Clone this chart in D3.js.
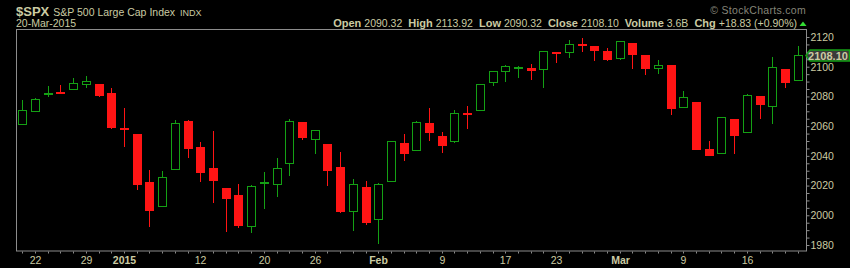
<!DOCTYPE html>
<html lang="en">

<head>
    <meta charset="UTF-8" />
    <title>$SPX daily candles</title>
    <script src="https://d3js.org/d3.v7.min.js"></script>
    <style>
        html, body {
            margin: 0;
            padding: 0;
            background: #000;
        }

        svg {
            display: block;
            font-family: "Liberation Sans", Arial, sans-serif;
        }
    </style>
</head>

<body>
    <div id="chart"></div>

    <script>
        // trading days shown on the chart
        const dates = [
            "2014-12-19", "2014-12-22", "2014-12-23", "2014-12-24", "2014-12-26", "2014-12-29", "2014-12-30", "2014-12-31",
            "2015-01-02", "2015-01-05", "2015-01-06", "2015-01-07", "2015-01-08", "2015-01-09",
            "2015-01-12", "2015-01-13", "2015-01-14", "2015-01-15", "2015-01-16",
            "2015-01-20", "2015-01-21", "2015-01-22", "2015-01-23",
            "2015-01-26", "2015-01-27", "2015-01-28", "2015-01-29", "2015-01-30",
            "2015-02-02", "2015-02-03", "2015-02-04", "2015-02-05", "2015-02-06",
            "2015-02-09", "2015-02-10", "2015-02-11", "2015-02-12", "2015-02-13",
            "2015-02-17", "2015-02-18", "2015-02-19", "2015-02-20",
            "2015-02-23", "2015-02-24", "2015-02-25", "2015-02-26", "2015-02-27",
            "2015-03-02", "2015-03-03", "2015-03-04", "2015-03-05", "2015-03-06",
            "2015-03-09", "2015-03-10", "2015-03-11", "2015-03-12", "2015-03-13",
            "2015-03-16", "2015-03-17", "2015-03-18", "2015-03-19", "2015-03-20"
        ];

        const opens = [
            2061.04, 2069.28, 2081.48, 2083.25, 2084.30, 2087.63, 2088.49, 2082.11,
            2058.90, 2054.44, 2022.15, 2005.55, 2030.61, 2063.45,
            2046.13, 2031.58, 2018.40, 2013.75, 1992.25,
            2020.76, 2020.19, 2034.30, 2062.98,
            2050.42, 2047.86, 2032.34, 2002.45, 2019.35,
            1996.67, 2022.71, 2048.86, 2043.45, 2062.28,
            2053.47, 2049.38, 2068.55, 2069.98, 2088.78,
            2096.47, 2099.16, 2099.25, 2097.65,
            2109.83, 2109.10, 2115.30, 2113.91, 2110.88,
            2105.23, 2115.76, 2107.72, 2098.54, 2100.91,
            2072.25, 2076.14, 2044.69, 2041.10, 2064.56,
            2055.35, 2080.59, 2072.84, 2098.69, 2090.32
        ];

        const highs = [
            2077.85, 2078.76, 2086.73, 2087.56, 2092.70, 2093.55, 2088.49, 2085.58,
            2072.36, 2054.44, 2030.25, 2029.61, 2064.08, 2064.43,
            2049.30, 2056.93, 2018.40, 2021.35, 2020.46,
            2028.94, 2038.29, 2064.62, 2062.98,
            2057.62, 2047.86, 2042.49, 2024.64, 2023.32,
            2021.66, 2050.30, 2054.74, 2063.55, 2072.40,
            2056.16, 2070.86, 2073.48, 2088.53, 2097.03,
            2101.30, 2100.23, 2102.13, 2110.61,
            2110.05, 2117.94, 2119.59, 2113.91, 2112.74,
            2117.52, 2115.76, 2107.72, 2104.25, 2100.91,
            2083.49, 2076.14, 2050.08, 2066.41, 2064.56,
            2081.41, 2080.59, 2106.85, 2098.69, 2113.92
        ];

        const lows = [
            2061.03, 2069.28, 2079.77, 2081.86, 2084.30, 2085.75, 2079.53, 2057.94,
            2046.04, 2017.34, 1992.44, 2005.55, 2030.61, 2038.33,
            2022.58, 2008.25, 1988.44, 1991.47, 1988.12,
            2004.49, 2012.04, 2026.38, 2050.54,
            2040.97, 2019.91, 2001.49, 1989.18, 1993.38,
            1980.90, 2022.71, 2036.72, 2043.45, 2049.97,
            2041.88, 2048.62, 2057.99, 2069.98, 2086.70,
            2089.80, 2092.15, 2090.79, 2085.44,
            2102.54, 2105.87, 2109.89, 2103.76, 2103.75,
            2104.50, 2098.26, 2094.49, 2095.22, 2067.27,
            2072.21, 2044.16, 2039.69, 2041.10, 2041.17,
            2055.35, 2065.08, 2061.23, 2085.56, 2090.32
        ];

        const closes = [
            2070.65, 2078.54, 2082.17, 2081.88, 2088.77, 2090.57, 2080.35, 2058.90,
            2058.20, 2020.58, 2002.61, 2025.90, 2062.14, 2044.81,
            2028.26, 2023.03, 2011.27, 1992.67, 2019.42,
            2022.55, 2032.12, 2063.15, 2051.82,
            2057.09, 2029.55, 2002.16, 2021.25, 1994.99,
            2020.85, 2050.03, 2041.51, 2062.52, 2055.47,
            2046.74, 2068.59, 2068.53, 2088.48, 2096.99,
            2100.34, 2099.68, 2097.45, 2110.30,
            2109.66, 2115.48, 2113.86, 2110.74, 2104.50,
            2117.39, 2107.78, 2098.53, 2101.04, 2071.26,
            2079.43, 2044.16, 2040.24, 2065.95, 2053.40,
            2081.19, 2074.28, 2099.50, 2089.27, 2108.10
        ];

        // x axis labels (date -> text), bold ones mark a new month / year
        const tickDates = ["2014-12-22", "2014-12-29", "2015-01-02", "2015-01-12", "2015-01-20", "2015-01-26",
            "2015-02-02", "2015-02-09", "2015-02-17", "2015-02-23", "2015-03-02", "2015-03-09", "2015-03-16"];
        const tickTexts = ["22", "29", "2015", "12", "20", "26", "Feb", "9", "17", "23", "Mar", "9", "16"];
        const boldTicks = ["2015", "Feb", "Mar"];

        const yTicks = d3.range(1980, 2121, 5);

        const header = [
            ["Open", "2090.32"], ["High", "2113.92"], ["Low", "2090.32"],
            ["Close", "2108.10"], ["Volume", "3.6B"], ["Chg", "+18.83 (+0.90%)"]
        ];

        const width = 850;
        const height = 268;
        const plot = { left: 16, top: 29.5, right: 806, bottom: 251 };

        const textColor = "#cbcba3";
        const upColor = "#14a014";
        const downColor = "#ff1414";

        const candles = dates.map((d, i) => ({
            date: d, open: opens[i], high: highs[i], low: lows[i], close: closes[i]
        }));

        const svg = d3.select("#chart")
            .append("svg")
            .attr("width", width)
            .attr("height", height);

        svg.append("rect")
            .attr("width", width)
            .attr("height", height)
            .attr("fill", "#000");

        const x = d3.scaleBand()
            .domain(dates)
            .range([plot.left, 804])
            .padding(0);

        const y = d3.scaleLinear()
            .domain([1980, 2120])
            .range([245, 37]);

        const cx = d => Math.round(x(d) + x.bandwidth() / 2);
        const bodyHalf = Math.floor(x.bandwidth() * 0.7 / 2);

        // frame
        svg.append("rect")
            .attr("x", plot.left + 0.5)
            .attr("y", plot.top)
            .attr("width", plot.right - plot.left)
            .attr("height", plot.bottom - plot.top)
            .attr("fill", "none")
            .attr("stroke", "#8c8c8c");

        // y axis on the right
        const yAxis = svg.append("g")
            .attr("transform", `translate(${plot.right + 0.5},0)`)
            .call(d3.axisRight(y)
                .tickValues(yTicks)
                .tickSize(3)
                .tickPadding(1)
                .tickFormat(v => v % 20 === 0 ? v : ""));
        yAxis.select(".domain").remove();
        yAxis.selectAll("line").attr("stroke", "#8c8c8c");
        yAxis.selectAll("text")
            .attr("fill", textColor)
            .style("font-size", "10.5px")
            .style("font-family", "'Liberation Sans', Arial, sans-serif");

        // x axis at the bottom
        const xAxis = svg.append("g")
            .attr("transform", `translate(0,${plot.bottom + 0.5})`)
            .call(d3.axisBottom(x)
                .tickSize(2)
                .tickPadding(3)
                .tickFormat(d => {
                    const k = tickDates.indexOf(d);
                    return k < 0 ? "" : tickTexts[k];
                }));
        xAxis.select(".domain").remove();
        xAxis.selectAll(".tick").attr("transform", d => `translate(${cx(d) + 0.5},0)`);
        xAxis.selectAll("line").attr("stroke", "#8c8c8c");
        xAxis.selectAll("text")
            .attr("fill", textColor)
            .style("font-size", "10.5px")
            .style("font-family", "'Liberation Sans', Arial, sans-serif")
            .style("font-weight", function () {
                return boldTicks.includes(this.textContent) ? "bold" : "normal";
            });

        // candles
        const g = svg.append("g");

        g.selectAll("line.wick")
            .data(candles)
            .join("line")
            .attr("class", "wick")
            .attr("x1", d => cx(d.date) + 0.5)
            .attr("x2", d => cx(d.date) + 0.5)
            .attr("y1", d => Math.round(y(d.high)))
            .attr("y2", d => Math.round(y(d.low)))
            .attr("stroke", d => d.close >= d.open ? upColor : downColor);

        g.selectAll("rect.down")
            .data(candles.filter(d => d.close < d.open))
            .join("rect")
            .attr("class", "down")
            .attr("x", d => cx(d.date) - bodyHalf)
            .attr("width", bodyHalf * 2 + 1)
            .attr("y", d => Math.round(y(d.open)))
            .attr("height", d => Math.max(2, Math.round(y(d.close)) - Math.round(y(d.open))))
            .attr("fill", downColor);

        g.selectAll("rect.up")
            .data(candles.filter(d => d.close >= d.open))
            .join("rect")
            .attr("class", "up")
            .attr("x", d => cx(d.date) - bodyHalf + 0.5)
            .attr("width", bodyHalf * 2)
            .attr("y", d => Math.round(y(d.close)) + 0.5)
            .attr("height", d => Math.max(1, Math.round(y(d.open)) - Math.round(y(d.close)) - 1))
            .attr("fill", "#000")
            .attr("stroke", upColor);

        // last price tag
        const last = candles[candles.length - 1];
        const ly = Math.round(y(last.close)) + 0.5;
        svg.append("path")
            .attr("d", `M${plot.right},${ly} L${plot.right + 4},${ly - 5.5} H849.5 V${ly + 5.5} H${plot.right + 4} Z`)
            .attr("fill", "#3a3a3a")
            .attr("stroke", upColor)
            .attr("stroke-width", 1.5);
        svg.append("text")
            .attr("x", 828)
            .attr("y", ly + 4)
            .attr("text-anchor", "middle")
            .attr("fill", textColor)
            .style("font-size", "11px")
            .style("font-weight", "bold")
            .text(last.close.toFixed(2));

        // header
        const title = svg.append("text")
            .attr("x", 16)
            .attr("y", 15.5)
            .attr("fill", textColor);
        title.append("tspan").style("font-size", "13px").style("font-weight", "bold").text("$SPX");
        title.append("tspan").attr("dx", 4).style("font-size", "10.5px").text("S&P 500 Large Cap Index");
        title.append("tspan").attr("dx", 5).style("font-size", "9px").text("INDX");

        svg.append("text")
            .attr("x", 16)
            .attr("y", 27)
            .attr("fill", textColor)
            .style("font-size", "10.5px")
            .text("20-Mar-2015");

        const info = svg.append("text")
            .attr("x", 797)
            .attr("y", 27)
            .attr("text-anchor", "end")
            .attr("fill", textColor);
        header.forEach(([label, value], i) => {
            info.append("tspan")
                .attr("dx", i === 0 ? 0 : 6)
                .style("font-size", "11px")
                .style("font-weight", "bold")
                .text(label);
            info.append("tspan")
                .attr("dx", 3)
                .style("font-size", "10.5px")
                .text(value);
        });

        svg.append("path")
            .attr("d", "M799.5,26 L803,21.5 L806.5,26 Z")
            .attr("fill", "#33dd33");

        svg.append("text")
            .attr("x", 806)
            .attr("y", 14)
            .attr("text-anchor", "end")
            .attr("fill", "#858578")
            .style("font-size", "10.5px")
            .style("letter-spacing", "0.3px")
            .text("\u00A9 StockCharts.com");
    </script>
</body>

</html>
